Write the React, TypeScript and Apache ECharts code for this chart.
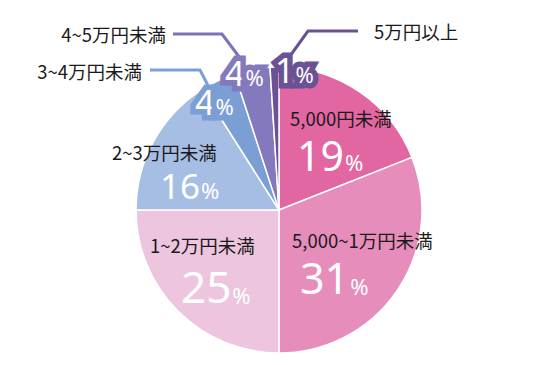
import React, { useEffect, useRef } from "react";
import * as echarts from "echarts";

const categories = ["5,000円未満", "5,000~1万円未満", "1~2万円未満", "2~3万円未満", "3~4万円未満", "4~5万円未満", "5万円以上"];
const values = [19, 31, 25, 16, 4, 4, 1];
const colors = ["#E266A2", "#E68DBB", "#EDC5DE", "#A6BEE3", "#7B9ED5", "#8579BD", "#6B5294"];
const lineColors = ["", "", "", "", "#7C9FD5", "#7F73B8", "#6A5393"];

const FONT = "'Noto Sans CJK JP', 'Noto Sans', sans-serif";
const NUMFONT = "'Noto Sans', 'Open Sans', sans-serif";

// label placement (decoration only)
const nameLayout: any[] = [
  { x: 290, y: 118, align: "left" },
  { x: 292, y: 240, align: "left" },
  { x: 150, y: 245, align: "left" },
  { x: 112, y: 152, align: "left" },
  { x: 142, y: 71, align: "right", line: [[214, 97], [200, 70], [150, 70]] },
  { x: 166, y: 34, align: "right", line: [[240, 58], [222, 34], [173, 34]] },
  { x: 374, y: 31, align: "left", line: [[290, 56], [308, 31], [358, 31]] },
];
const pctLayout: any[] = [
  { x: 297, y: 158, size: 41 },
  { x: 300, y: 281, size: 43 },
  { x: 181, y: 289, size: 44 },
  { x: 160, y: 188, size: 35 },
  { x: 195, y: 105, size: 34 },
  { x: 225, y: 76, size: 34 },
  { x: 275, y: 73, size: 34 },
];

export default function App() {
  const ref = useRef<HTMLDivElement>(null);
  useEffect(() => {
    if (!ref.current) return;
    const chart = echarts.init(ref.current, undefined, { renderer: "svg" });
    const small = (i: number) => i >= 4;
    const nameData = categories.map((c, i) => ({
      name: c,
      value: values[i],
      itemStyle: { color: colors[i] },
      labelLine: small(i)
        ? { show: true, lineStyle: { color: lineColors[i], width: 3 } }
        : { show: false },
    }));
    const pctData = categories.map((c, i) => ({
      name: c,
      value: values[i],
      label: {
        rich: {
          n: {
            fontFamily: NUMFONT,
            fontWeight: 400,
            fontSize: pctLayout[i].size,
            color: "#fff",
            lineHeight: pctLayout[i].size * 0.85,
            verticalAlign: "bottom",
            textBorderColor: small(i) ? colors[i] : "transparent",
            textBorderWidth: small(i) ? 11 : 0,
          },
          p: {
            fontFamily: NUMFONT,
            fontWeight: 400,
            fontSize: 22,
            lineHeight: 22,
            color: "#fff",
            verticalAlign: "bottom",
            padding: [0, 0, 2, 1],
            textBorderColor: small(i) ? colors[i] : "transparent",
            textBorderWidth: small(i) ? 11 : 0,
          },
        },
      },
    }));
    chart.setOption({
      animation: false,
      series: [
        {
          type: "pie",
          z: 2,
          center: [279, 210],
          radius: [0, 143],
          startAngle: 90,
          clockwise: true,
          avoidLabelOverlap: false,
          silent: true,
          itemStyle: { borderColor: "#fff", borderWidth: 1.5 },
          label: {
            show: true,
            position: "outside",
            formatter: (p: any) => p.name,
            fontFamily: FONT,
            fontSize: 18.5,
            lineHeight: 20,
            color: "#1a1a1a",
          },
          labelLine: { show: true, length: 10, length2: 10 },
          labelLayout: (p: any) => {
            const l = nameLayout[p.dataIndex];
            const o: any = { x: l.x, y: l.y, align: l.align, verticalAlign: "middle" };
            if (l.line) o.labelLinePoints = l.line;
            return o;
          },
          data: nameData,
        },
        {
          type: "pie",
          z: 3,
          center: [279, 210],
          radius: [0, 143],
          startAngle: 90,
          clockwise: true,
          avoidLabelOverlap: false,
          silent: true,
          itemStyle: { color: "transparent", borderWidth: 0 },
          label: {
            show: true,
            position: "inside",
            formatter: (p: any) => `{n|${p.value}}{p|%}`,
          },
          labelLine: { show: false },
          labelLayout: (p: any) => {
            const l = pctLayout[p.dataIndex];
            return { x: l.x, y: l.y, align: "left", verticalAlign: "middle" };
          },
          data: pctData,
        },
      ],
    });
    return () => chart.dispose();
  }, []);
  return <div ref={ref} style={{ width: 552, height: 365, position: "absolute", left: 0, top: 0 }} />;
}
